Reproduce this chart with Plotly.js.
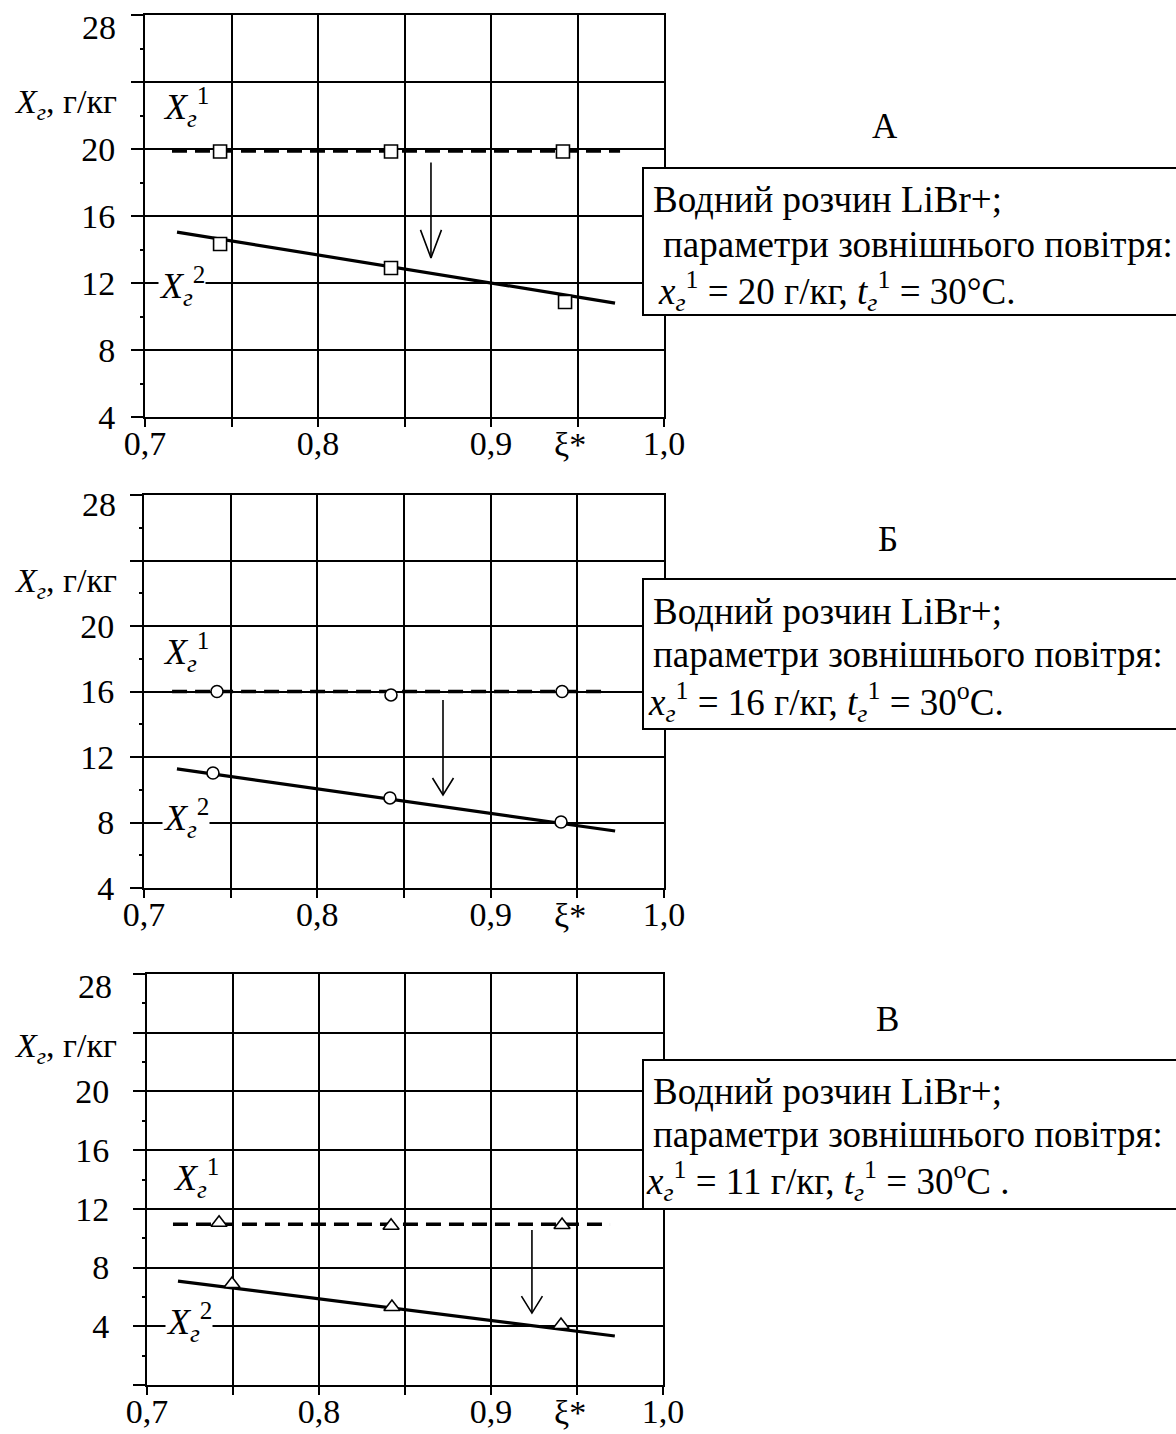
<!DOCTYPE html>
<html>
<head>
<meta charset="utf-8">
<script src="https://cdn.plot.ly/plotly-3.0.1.min.js"></script>
<style>html,body{margin:0;padding:0;background:#fff;}#chart{width:1176px;height:1434px;}</style>
</head>
<body>
<div id="chart"></div>
<script>
// ---------- DATA ----------
const xTickVals = [0.7, 0.75, 0.8, 0.85, 0.9, 0.95, 1.0];
const xTickText = ['0,7', '', '0,8', '', '0,9', '', '1,0'];
const xiLabel = 'ξ*';

const yTickValsAB = [4, 8, 12, 16, 20, 24, 28];
const yTickTextAB = ['4', '8', '12', '16', '20', '', ''];
const yTickValsC = [0, 4, 8, 12, 16, 20, 24, 28];
const yTickTextC = ['', '4', '8', '12', '16', '20', '', ''];
const yTopLabel = '28';
const yMinorVals = [2, 6, 10, 14, 18, 22, 26];

// Panel A (squares)
const A_x1_pts = [0.7434, 0.8422, 0.9416];
const A_y1_pts = [19.85, 19.85, 19.85];
const A_x1_line = [0.7156, 0.9746];
const A_y1_line = [19.88, 19.88];
const A_x2_pts = [0.7434, 0.8422, 0.9428];
const A_y2_pts = [14.33, 12.9, 10.87];
const A_x2_line = [0.7185, 0.9717];
const A_y2_line = [15.04, 10.8];
const A_arrow = [0.8653, 19.2, 13.5]; // x, from, to

// Panel B (circles)
const B_x1_pts = [0.7421, 0.8425, 0.9412];
const B_y1_pts = [16.0, 15.79, 16.0];
const B_x1_line = [0.7162, 0.9677];
const B_y1_line = [16.0, 16.0];
const B_x2_pts = [0.7398, 0.8419, 0.9406];
const B_y2_pts = [11.02, 9.5, 8.03];
const B_x2_line = [0.719, 0.9718];
const B_y2_line = [11.27, 7.48];
const B_arrow = [0.8725, 15.48, 9.68];

// Panel C (triangles)
const C_x1_pts = [0.7419, 0.8419, 0.9413];
const C_y1_pts = [11.05, 10.85, 10.9];
const C_x1_line = [0.7151, 0.9692];
const C_y1_line = [10.95, 10.95];
const C_x2_pts = [0.7494, 0.8424, 0.9407];
const C_y2_pts = [6.88, 5.31, 4.09];
const C_x2_line = [0.718, 0.972];
const C_y2_line = [7.08, 3.34];
const C_arrow = [0.9238, 10.56, 4.9];

const panelLetters = ['А', 'Б', 'В'];
const boxLine1 = 'Водний розчин LiBr+;';
const boxLine2 = 'параметри зовнішнього повітря:';
const boxLine3 = [
  '<i>x<sub>г</sub></i><sup>1</sup> = 20 г/кг, <i>t<sub>г</sub></i><sup>1</sup> = 30°C.',
  '<i>x<sub>г</sub></i><sup>1</sup> = 16 г/кг, <i>t<sub>г</sub></i><sup>1</sup> = 30<sup>o</sup>C.',
  '<i>x<sub>г</sub></i><sup>1</sup> = 11 г/кг, <i>t<sub>г</sub></i><sup>1</sup> = 30<sup>o</sup>C .'
];
const yTitle = '<i>X<sub>г</sub></i>, г/кг';
const lab1 = '<i>X<sub>г</sub></i><sup>1</sup>';
const lab2 = '<i>X<sub>г</sub></i><sup>2</sup>';

// ---------- LAYOUT ----------
const W = 1176, H = 1434;
const px = v => v / W;
const py = v => 1 - v / H;
const FONT = 'Liberation Serif, Times New Roman, serif';

const panels = [
  {l:145, r:664, t:15, b:417, yr:[4,28], tv:yTickValsAB, tt:yTickTextAB, stand:9,
   sym:'square', msize:13, pts:[A_x1_pts,A_y1_pts,A_x2_pts,A_y2_pts], lines:[A_x1_line,A_y1_line,A_x2_line,A_y2_line],
   arrow:A_arrow, headH:28, headW:10.5,
   box:{l:643, t:168, b:315, lines:[[651,199],[661,244],[656,291]]},
   letter:[885,127], ytitle:104, top28:[118,27], lab1:[161,107], lab2:[158,286], xlabY:445},
  {l:144, r:664, t:495, b:888, yr:[4,28], tv:yTickValsAB, tt:yTickTextAB, stand:9,
   sym:'circle', msize:12, pts:[B_x1_pts,B_y1_pts,B_x2_pts,B_y2_pts], lines:[B_x1_line,B_y1_line,B_x2_line,B_y2_line],
   arrow:B_arrow, headH:17, headW:10.5,
   box:{l:643, t:579, b:729, lines:[[651,611],[651,654],[646,702]]},
   letter:[888,539], ytitle:583, top28:[118,504], lab1:[161,652], lab2:[162,818], xlabY:915},
  {l:147, r:663, t:974, b:1385, yr:[0,28], tv:yTickValsC, tt:yTickTextC, stand:17,
   sym:'triangle-up', msize:14, pts:[C_x1_pts,C_y1_pts,C_x2_pts,C_y2_pts], lines:[C_x1_line,C_y1_line,C_x2_line,C_y2_line],
   arrow:C_arrow, headH:17, headW:10.5,
   box:{l:643, t:1060, b:1209, lines:[[651,1091],[651,1134],[644,1181]]},
   letter:[888,1019], ytitle:1048, top28:[114,986], lab1:[171,1178], lab2:[165,1322], xlabY:1412}
];

const traces = [];
const layout = {
  width: W, height: H,
  margin: {l:0, r:0, t:0, b:0, pad:0},
  paper_bgcolor: '#fff', plot_bgcolor: '#fff',
  showlegend: false,
  font: {family: FONT, color: '#000', size: 33},
  shapes: [], annotations: []
};

panels.forEach((p, i) => {
  const n = i === 0 ? '' : String(i + 1);
  const xa = 'x' + n, ya = 'y' + n;
  layout['xaxis' + n] = {
    domain: [px(p.l), px(p.r)], range: [0.7, 1.0], anchor: ya,
    tickmode: 'array', tickvals: xTickVals, ticktext: xTickText,
    tickfont: {family: FONT, size: 34, color: '#000'},
    ticklabelstandoff: -13, ticklabeloverflow: 'allow',
    showgrid: true, gridcolor: '#000', gridwidth: 2,
    showline: true, linecolor: '#000', linewidth: 2, mirror: true,
    ticks: 'outside', ticklen: 8, tickwidth: 2, tickcolor: '#000',
    zeroline: false, fixedrange: true
  };
  layout['yaxis' + n] = {
    domain: [py(p.b), py(p.t)], range: p.yr, anchor: xa,
    tickmode: 'array', tickvals: p.tv, ticktext: p.tt,
    tickfont: {family: FONT, size: 34, color: '#000'},
    ticklabelstandoff: p.stand, ticklabeloverflow: 'allow',
    showgrid: true, gridcolor: '#000', gridwidth: 2,
    showline: true, linecolor: '#000', linewidth: 2, mirror: true,
    ticks: 'outside', ticklen: 12, tickwidth: 2, tickcolor: '#000',
    minor: {tickvals: yMinorVals.filter(v => v > p.yr[0] && v < p.yr[1]), ticks: 'outside', ticklen: 3, tickwidth: 2, tickcolor: '#000', showgrid: false},
    zeroline: false, fixedrange: true
  };

  const [lx1, ly1, lx2, ly2] = p.lines;
  const [qx1, qy1, qx2, qy2] = p.pts;
  traces.push({x: lx1, y: ly1, xaxis: xa, yaxis: ya, mode: 'lines', line: {color: '#000', width: 3.5, dash: '15px,8px'}, hoverinfo: 'skip'});
  traces.push({x: lx2, y: ly2, xaxis: xa, yaxis: ya, mode: 'lines', line: {color: '#000', width: 3.2}, hoverinfo: 'skip'});

  // arrow (shaft + open V head) in data units
  const uy = (p.yr[1] - p.yr[0]) / (p.b - p.t);
  const ux = 0.3 / (p.r - p.l);
  const [ax, af, at] = p.arrow;
  const hh = p.headH * uy, hw = p.headW * ux;
  traces.push({x: [ax, ax, null, ax - hw, ax, ax + hw], y: [af, at, null, at + hh, at, at + hh],
    xaxis: xa, yaxis: ya, mode: 'lines', line: {color: '#000', width: 1.6}, hoverinfo: 'skip'});

  const mk = {symbol: p.sym, size: p.msize, color: '#fff', line: {color: '#000', width: 1.6}};
  traces.push({x: qx1, y: qy1, xaxis: xa, yaxis: ya, mode: 'markers', marker: mk, hoverinfo: 'skip'});
  traces.push({x: qx2, y: qy2, xaxis: xa, yaxis: ya, mode: 'markers', marker: mk, hoverinfo: 'skip'});

  // text box
  layout.shapes.push({type: 'rect', xref: 'paper', yref: 'paper', x0: px(p.box.l), x1: 1.05,
    y0: py(p.box.b), y1: py(p.box.t), fillcolor: '#fff', line: {color: '#000', width: 2}, layer: 'above'});
  const txt = [boxLine1, boxLine2, boxLine3[i]];
  p.box.lines.forEach((ln, k) => {
    layout.annotations.push({xref: 'paper', yref: 'paper', x: px(ln[0]), y: py(ln[1]),
      xanchor: 'left', yanchor: 'middle', text: txt[k], showarrow: false,
      font: {family: FONT, size: 37, color: '#000'}});
  });

  // top tick label (drawn just below the top edge, as in the reference)
  layout.annotations.push({xref: 'paper', yref: 'paper', x: px(p.top28[0]), y: py(p.top28[1]),
    xanchor: 'right', yanchor: 'middle', text: yTopLabel, showarrow: false,
    font: {family: FONT, size: 34, color: '#000'}});
  // panel letter
  layout.annotations.push({xref: 'paper', yref: 'paper', x: px(p.letter[0]), y: py(p.letter[1]),
    xanchor: 'center', yanchor: 'middle', text: panelLetters[i], showarrow: false,
    font: {family: FONT, size: 35, color: '#000'}});
  // y title
  layout.annotations.push({xref: 'paper', yref: 'paper', x: px(119), y: py(p.ytitle),
    xanchor: 'right', yanchor: 'middle', text: yTitle, showarrow: false,
    font: {family: FONT, size: 34, color: '#000'}});
  // curve labels
  layout.annotations.push({xref: 'paper', yref: 'paper', x: px(p.lab1[0]), y: py(p.lab1[1]),
    xanchor: 'left', yanchor: 'middle', text: lab1, showarrow: false,
    font: {family: FONT, size: 36, color: '#000'}});
  layout.annotations.push({xref: 'paper', yref: 'paper', x: px(p.lab2[0]), y: py(p.lab2[1]),
    xanchor: 'left', yanchor: 'middle', text: lab2, showarrow: false, bgcolor: '#fff', borderpad: 0,
    font: {family: FONT, size: 36, color: '#000'}});
  // xi* label
  layout.annotations.push({xref: xa, yref: 'paper', x: 0.9457, y: py(p.xlabY),
    xanchor: 'center', yanchor: 'middle', text: xiLabel, showarrow: false,
    font: {family: FONT, size: 34, color: '#000'}});
});

Plotly.newPlot('chart', traces, layout, {displayModeBar: false, staticPlot: true});
</script>
</body>
</html>
